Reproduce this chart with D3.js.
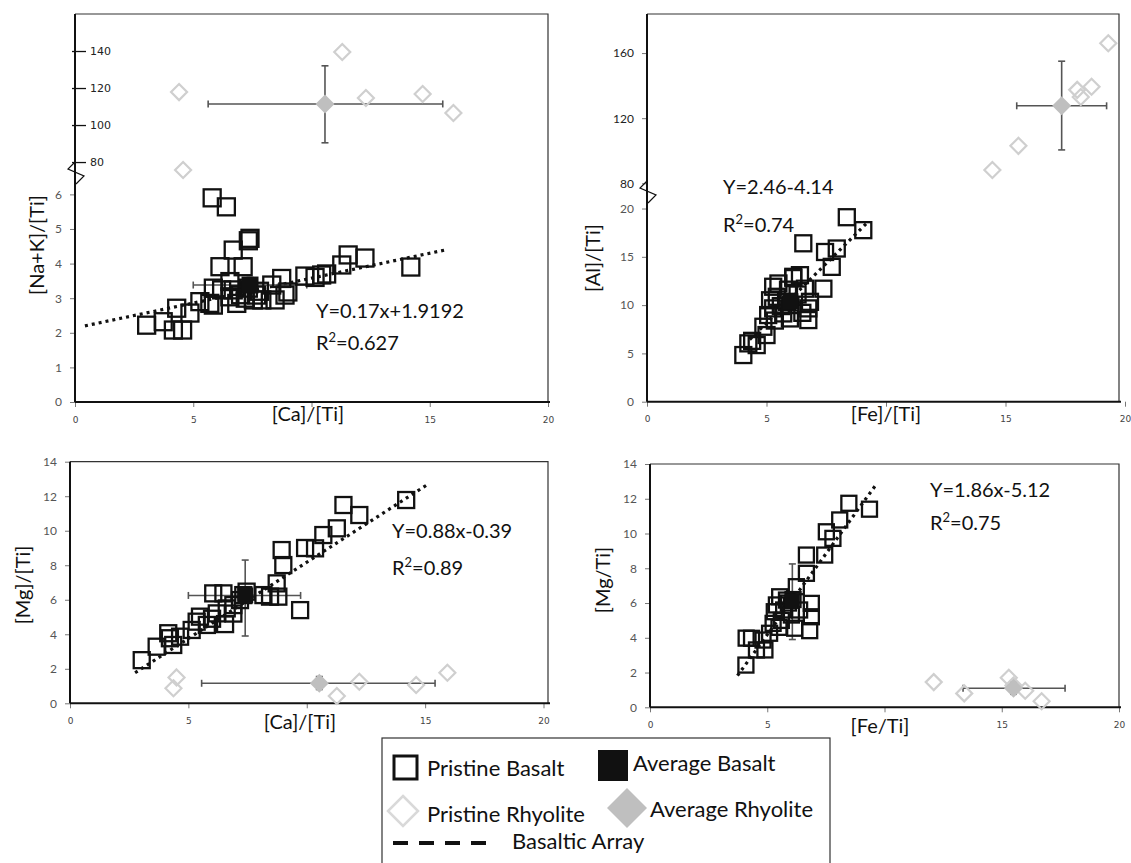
<!DOCTYPE html>
<html>
<head>
<meta charset="utf-8">
<script src="https://cdn.jsdelivr.net/npm/d3@7"></script>
<style>
  body { margin: 0; background: #fff; }
  text { font-family: Lato, "Open Sans", sans-serif; }
</style>
</head>
<body>
<script>
// ---------- data ----------
// [Ca]/[Ti] vs [Na+K]/[Ti]
const caNaBasalt = [[3.03,2.22],[3.73,2.32],[4.16,2.08],[4.55,2.08],[4.3,2.71],[4.86,2.57],[5.28,2.9],[5.7,2.85],
  [5.85,3.29],[6.2,3.24],[6.13,3.91],[6.55,3.48],[6.69,4.39],[7.11,3.91],[7.4,4.73],[7.33,4.66],[6.84,2.85],
  [6.55,3.04],[7.54,2.95],[7.33,3.29],[5.85,2.8],[6.69,3.24],[5.8,5.9],[6.4,5.64],[7.68,3.09],[7.8,3.2],
  [8.32,3.38],[8.46,2.95],[8.74,3.57],[8.88,3.09],[9.0,3.18],[9.72,3.64],[10.15,3.6],[10.43,3.67],[10.64,3.7],
  [11.28,3.96],[11.55,4.25],[12.26,4.16],[14.2,3.9],[7.0,3.1],[7.9,2.95],[7.2,3.0]];
const caNaAvgBasalt = [7.4, 3.38], caNaAvgBasaltErrX = [5.0, 9.8], caNaAvgBasaltErrY = [3.15, 3.6];
const caNaRhyolite = [[4.4,117.8],[4.57,75.7],[11.3,139.5],[12.3,114.6],[14.7,116.8],[16.0,106.5]];
const caNaAvgRhyolite = [10.57, 111.4], caNaRhyErrX = [5.63, 15.55], caNaRhyErrY = [90.4, 132];
const caNaTrend = [[0.42,2.2],[15.7,4.4]];

// [Fe]/[Ti] vs [Al]/[Ti]
const feAlBasalt = [[4.03,4.83],[4.24,6.04],[4.59,5.86],[4.4,6.3],[5.0,6.9],[4.87,7.76],[5.07,8.97],[5.28,9.66],
  [5.15,10.5],[5.5,12.24],[5.28,11.9],[5.43,10.86],[5.85,10.34],[5.7,9.14],[5.98,8.62],[6.12,12.93],[6.4,13.1],
  [6.54,16.4],[6.75,8.45],[6.75,9.66],[6.61,11.7],[6.82,10.34],[7.38,11.7],[7.45,15.5],[7.73,13.96],[7.94,15.86],
  [8.36,19.1],[9.05,17.76],[6.12,12.8],[5.6,9.9],[6.0,10.0],[6.3,11.1],[5.9,11.6],[6.5,9.2],[5.35,8.4]];
const feAlAvgBasalt = [6.0, 10.4];
const feAlRhyolite = [[14.45,88.2],[15.54,103],[18.0,137.4],[18.6,139.3],[18.15,133],[19.3,166]];
const feAlAvgRhyolite = [17.35, 127.6], feAlRhyErrX = [15.47, 19.23], feAlRhyErrY = [100.5, 155];
const feAlTrend = [[4.3,6.44],[9.2,18.5]];

// [Ca]/[Ti] vs [Mg]/[Ti]
const caMgBasalt = [[3.03,2.5],[3.66,3.28],[4.15,4.06],[4.36,3.38],[4.22,3.77],[4.65,3.86],[5.14,4.25],[5.35,4.73],
  [5.49,5.02],[5.78,4.54],[6.05,6.37],[6.48,6.37],[6.2,5.21],[6.55,4.59],[6.62,5.5],[6.9,5.69],[7.18,5.98],
  [7.46,6.47],[7.32,6.27],[8.17,6.27],[8.45,6.18],[8.73,6.95],[8.8,6.18],[9.01,8.01],[8.94,8.88],[9.72,5.4],
  [11.55,11.49],[12.22,10.91],[11.27,10.14],[10.7,9.75],[10.35,8.98],[9.93,9.0],[14.2,11.78],[6.0,4.9],[6.9,5.2]];
const caMgAvgBasalt = [7.4, 6.25], caMgAvgBasaltErrX = [5.0, 9.74], caMgAvgBasaltErrY = [3.9, 8.3];
const caMgRhyolite = [[4.5,1.5],[4.37,0.87],[11.27,0.42],[12.22,1.25],[14.62,1.06],[15.94,1.77]];
const caMgAvgRhyolite = [10.53, 1.16], caMgRhyErrX = [5.56, 15.42], caMgRhyErrY = [0.8, 1.55];
const caMgTrend = [[2.75,1.77],[15.07,12.65]];

// [Fe]/[Ti] vs [Mg]/[Ti]
const feMgBasalt = [[4.09,2.43],[4.33,3.97],[4.1,3.98],[4.54,3.3],[4.9,3.3],[4.82,3.87],[5.1,4.26],[5.25,4.83],
  [5.39,5.89],[5.53,6.36],[5.82,6.17],[6.03,5.31],[6.17,4.55],[6.38,5.6],[6.24,6.94],[6.67,7.71],[6.67,8.76],
  [6.88,5.98],[6.88,5.21],[6.81,4.41],[7.45,8.76],[7.52,10.1],[7.8,9.72],[8.09,10.78],[8.48,11.74],[9.36,11.4],
  [5.3,5.5],[5.6,5.0],[5.9,6.0],[5.5,4.6],[6.1,6.2],[5.7,5.6]];
const feMgAvgBasalt = [6.07, 6.1], feMgAvgBasaltErrY = [3.9, 8.25];
const feMgRhyolite = [[12.1,1.45],[13.4,0.8],[15.3,1.7],[15.5,1.25],[16.0,0.95],[16.7,0.35]];
const feMgAvgRhyolite = [15.5, 1.1], feMgRhyErrX = [13.35, 17.7], feMgRhyErrY = [0.75, 1.45];
const feMgTrend = [[3.73,1.82],[9.65,12.83]];

const xTicks = [0, 5, 10, 15, 20];
const xTickLabels = ["0", "5", "", "15", "20"];

// ---------- drawing ----------
const svg = d3.select("body").append("svg")
    .attr("width", 1131)
    .attr("height", 863);

const rhyStroke = "#cfcfcf", rhyFill = "#bfbfbf", errColor = "#555";

function brokenY(lowDom, lowRange, upDom, upRange) {
  const lo = d3.scaleLinear().domain(lowDom).range(lowRange);
  const up = d3.scaleLinear().domain(upDom).range(upRange);
  const f = v => v <= lowDom[1] ? lo(v) : up(v);
  f.lo = lo; f.up = up;
  return f;
}

function diamond(r) { return `M0,${-r}L${r},0L0,${r}L${-r},0Z`; }

function drawPanel(p) {
  const g = svg.append("g");
  const x = p.x, y = p.y;
  const left = x.range()[0], bottom = p.bottom;

  // frame: thin top/right, heavy left/bottom
  g.append("path")
    .attr("d", `M${left},${p.top}H${p.right}V${bottom}`)
    .attr("fill", "none").attr("stroke", "#333").attr("stroke-width", 1.2);

  // x ticks
  const xa = g.append("g").attr("transform", `translate(0,${bottom})`)
    .call(d3.axisBottom(x).tickValues(xTicks).tickSize(5)
      .tickFormat((d, i) => xTickLabels[i]));
  xa.select(".domain").remove();
  xa.selectAll("line").attr("stroke", "#777");
  xa.selectAll("text").attr("fill", "#444").style("font-family", "DejaVu Sans")
    .style("font-size", "9px").attr("dy", "1.4em");

  // y axis
  p.yAxes(g);

  g.append("line").attr("x1", left).attr("x2", left).attr("y1", p.top).attr("y2", bottom)
    .attr("stroke", "#111").attr("stroke-width", 2);
  g.append("line").attr("x1", left).attr("x2", p.right + 2).attr("y1", bottom).attr("y2", bottom)
    .attr("stroke", "#111").attr("stroke-width", 2);

  if (p.zigzag) {
    const b = p.zigzag;
    g.append("path")
      .attr("d", `M${left},${b - 9}L${left - 7},${b - 2}L${left + 9},${b + 5}L${left + 1},${b + 13}`)
      .attr("fill", "none").attr("stroke", "#111").attr("stroke-width", 1.2);
  }

  // trend line
  g.append("path")
    .attr("d", d3.line().x(d => x(d[0])).y(d => y(d[1]))(p.trend))
    .attr("stroke", "#111").attr("stroke-width", 3.2)
    .attr("stroke-dasharray", "3,4").attr("fill", "none");

  // error bars
  function errBars(c, ex, ey) {
    const cap = 3.5;
    const eg = g.append("g").attr("stroke", errColor).attr("stroke-width", 1.6);
    if (ex) {
      eg.append("line").attr("x1", x(ex[0])).attr("x2", x(ex[1])).attr("y1", y(c[1])).attr("y2", y(c[1]));
      ex.forEach(v => eg.append("line").attr("x1", x(v)).attr("x2", x(v))
        .attr("y1", y(c[1]) - cap).attr("y2", y(c[1]) + cap));
    }
    if (ey) {
      eg.append("line").attr("y1", y(ey[0])).attr("y2", y(ey[1])).attr("x1", x(c[0])).attr("x2", x(c[0]));
      ey.forEach(v => eg.append("line").attr("y1", y(v)).attr("y2", y(v))
        .attr("x1", x(c[0]) - cap).attr("x2", x(c[0]) + cap));
    }
  }
  errBars(p.avgR, p.rErrX, p.rErrY);
  errBars(p.avgB, p.bErrX, p.bErrY);

  // pristine rhyolite
  g.append("g").selectAll("path").data(p.rhy).join("path")
    .attr("d", diamond(8))
    .attr("transform", d => `translate(${x(d[0])},${y(d[1])})`)
    .attr("fill", "none").attr("stroke", rhyStroke).attr("stroke-width", 2.2);

  // pristine basalt
  const s = p.sq;
  g.append("g").selectAll("rect").data(p.basalt).join("rect")
    .attr("x", d => x(d[0]) - s / 2).attr("y", d => y(d[1]) - s / 2)
    .attr("width", s).attr("height", s)
    .attr("fill", "none").attr("stroke", "#111").attr("stroke-width", 2.3);

  // averages
  g.append("rect")
    .attr("x", x(p.avgB[0]) - s / 2).attr("y", y(p.avgB[1]) - s / 2)
    .attr("width", s).attr("height", s).attr("fill", "#111");
  g.append("path").attr("d", diamond(9.5))
    .attr("transform", `translate(${x(p.avgR[0])},${y(p.avgR[1])})`)
    .attr("fill", rhyFill);

  // equation text
  g.append("text").attr("x", p.eq[0]).attr("y", p.eq[1])
    .style("font-size", "20px").attr("fill", "#111").text(p.eqText);
  const t2 = g.append("text").attr("x", p.eq[0]).attr("y", p.eq[2])
    .style("font-size", "20px").attr("fill", "#111");
  t2.append("tspan").text("R");
  t2.append("tspan").attr("dy", -8).style("font-size", "13px").text("2");
  t2.append("tspan").attr("dy", 8).text("=" + p.r2);

  // axis titles
  g.append("text").attr("x", p.xTitle[0]).attr("y", p.xTitle[1])
    .attr("text-anchor", "middle").style("font-size", "20px").attr("fill", "#111").text(p.xLabel);
  g.append("text")
    .attr("transform", `translate(${p.yTitle[0]},${p.yTitle[1]}) rotate(-90)`)
    .attr("text-anchor", "middle").style("font-size", "20px").attr("fill", "#111").text(p.yLabel);
}

function styleY(sel, color) {
  sel.select(".domain").remove();
  sel.selectAll("line").attr("stroke", "#777");
  sel.selectAll("text").attr("fill", color || "#555").style("font-size", "12px");
}

const intFmt = d3.format("d");

// Panel 1
const y1 = brokenY([0, 6.56], [402, 175], [73, 160], [175, 14]);
drawPanel({
  x: d3.scaleLinear().domain([0, 20]).range([75, 548]), y: y1,
  top: 14, bottom: 402, right: 548, sq: 17, zigzag: 171,
  basalt: caNaBasalt, avgB: caNaAvgBasalt, bErrX: caNaAvgBasaltErrX, bErrY: caNaAvgBasaltErrY,
  rhy: caNaRhyolite, avgR: caNaAvgRhyolite, rErrX: caNaRhyErrX, rErrY: caNaRhyErrY,
  trend: caNaTrend, eq: [316, 318, 350], eqText: "Y=0.17x+1.9192", r2: "0.627",
  xLabel: "[Ca]/[Ti]", xTitle: [308, 421], yLabel: "[Na+K]/[Ti]", yTitle: [44, 245],
  yAxes: g => {
    styleY(g.append("g").attr("transform", "translate(75,0)")
      .call(d3.axisLeft(y1.lo).tickValues([0, 1, 2, 3, 4, 5, 6]).tickFormat(intFmt).tickSize(5).tickPadding(8)));
    const up = g.append("g").attr("transform", "translate(72,0)")
      .call(d3.axisRight(y1.up).tickValues([80, 100, 120, 140]).tickFormat(intFmt).tickSize(14).tickPadding(4));
    styleY(up, "#222");
    up.selectAll("line").attr("stroke", "#111").attr("stroke-width", 1.3);
    up.selectAll("text").style("font-family", "DejaVu Sans").style("font-size", "11px");
  }
});

// Panel 2
const y2 = brokenY([0, 21.4], [401.7, 195], [72.8, 184], [195, 14]);
drawPanel({
  x: d3.scaleLinear().domain([0, 20]).range([647, 1125]), y: y2,
  top: 14, bottom: 401.7, right: 1119, sq: 16, zigzag: 190,
  basalt: feAlBasalt, avgB: feAlAvgBasalt,
  rhy: feAlRhyolite, avgR: feAlAvgRhyolite, rErrX: feAlRhyErrX, rErrY: feAlRhyErrY,
  trend: feAlTrend, eq: [723, 194, 232], eqText: "Y=2.46-4.14", r2: "0.74",
  xLabel: "[Fe]/[Ti]", xTitle: [886, 421], yLabel: "[Al]/[Ti]", yTitle: [600, 258],
  yAxes: g => {
    styleY(g.append("g").attr("transform", "translate(647,0)")
      .call(d3.axisLeft(y2.lo).tickValues([0, 5, 10, 15, 20]).tickFormat(intFmt).tickSize(5).tickPadding(8)));
    styleY(g.append("g").attr("transform", "translate(647,0)")
      .call(d3.axisLeft(y2.up).tickValues([80, 120, 160]).tickFormat(intFmt).tickSize(5).tickPadding(8)), "#222");
  }
});

// Panel 3
const y3 = d3.scaleLinear().domain([0, 14]).range([703.3, 461.7]);
drawPanel({
  x: d3.scaleLinear().domain([0, 20]).range([70, 543.5]), y: y3,
  top: 461.7, bottom: 703.3, right: 548,  sq: 16,
  basalt: caMgBasalt, avgB: caMgAvgBasalt, bErrX: caMgAvgBasaltErrX, bErrY: caMgAvgBasaltErrY,
  rhy: caMgRhyolite, avgR: caMgAvgRhyolite, rErrX: caMgRhyErrX, rErrY: caMgRhyErrY,
  trend: caMgTrend, eq: [392, 538, 575], eqText: "Y=0.88x-0.39", r2: "0.89",
  xLabel: "[Ca]/[Ti]", xTitle: [300, 729], yLabel: "[Mg]/[Ti]", yTitle: [30, 585],
  yAxes: g => {
    styleY(g.append("g").attr("transform", "translate(70,0)")
      .call(d3.axisLeft(y3).tickValues(d3.range(0, 15, 2)).tickFormat(intFmt).tickSize(5).tickPadding(8)));
  }
});

// Panel 4
const y4 = d3.scaleLinear().domain([0, 14]).range([707.3, 464]);
drawPanel({
  x: d3.scaleLinear().domain([0, 20]).range([650, 1119]), y: y4,
  top: 464, bottom: 707.3, right: 1119, sq: 15,
  basalt: feMgBasalt, avgB: feMgAvgBasalt, bErrY: feMgAvgBasaltErrY,
  rhy: feMgRhyolite, avgR: feMgAvgRhyolite, rErrX: feMgRhyErrX, rErrY: feMgRhyErrY,
  trend: feMgTrend, eq: [930, 497, 530], eqText: "Y=1.86x-5.12", r2: "0.75",
  xLabel: "[Fe/Ti]", xTitle: [880, 733], yLabel: "[Mg/Ti]", yTitle: [610, 580],
  yAxes: g => {
    styleY(g.append("g").attr("transform", "translate(650,0)")
      .call(d3.axisLeft(y4).tickValues(d3.range(0, 15, 2)).tickFormat(intFmt).tickSize(5).tickPadding(8)));
  }
});

// ---------- legend ----------
const lg = svg.append("g");
lg.append("rect").attr("x", 382).attr("y", 738).attr("width", 448).attr("height", 140)
  .attr("fill", "#fff").attr("stroke", "#333").attr("stroke-width", 1.2);
lg.append("rect").attr("x", 394).attr("y", 756).attr("width", 23).attr("height", 23)
  .attr("fill", "none").attr("stroke", "#111").attr("stroke-width", 3);
lg.append("rect").attr("x", 598).attr("y", 750).attr("width", 30).attr("height", 31).attr("fill", "#111");
lg.append("path").attr("d", diamond(15)).attr("transform", "translate(403,811)")
  .attr("fill", "none").attr("stroke", "#d9d9d9").attr("stroke-width", 2.5);
lg.append("path").attr("d", diamond(20)).attr("transform", "translate(627,808)").attr("fill", rhyFill);
lg.append("line").attr("x1", 393).attr("x2", 490).attr("y1", 843).attr("y2", 843)
  .attr("stroke", "#111").attr("stroke-width", 4).attr("stroke-dasharray", "15,11");
const legendText = [["Pristine Basalt", 427, 776], ["Average Basalt", 633, 771],
  ["Pristine Rhyolite", 427, 822], ["Average Rhyolite", 650, 817], ["Basaltic Array", 512, 849]];
lg.selectAll("text.lt").data(legendText).join("text").attr("class", "lt")
  .attr("x", d => d[1]).attr("y", d => d[2]).style("font-size", "22px").attr("fill", "#111")
  .text(d => d[0]);
</script>
</body>
</html>
